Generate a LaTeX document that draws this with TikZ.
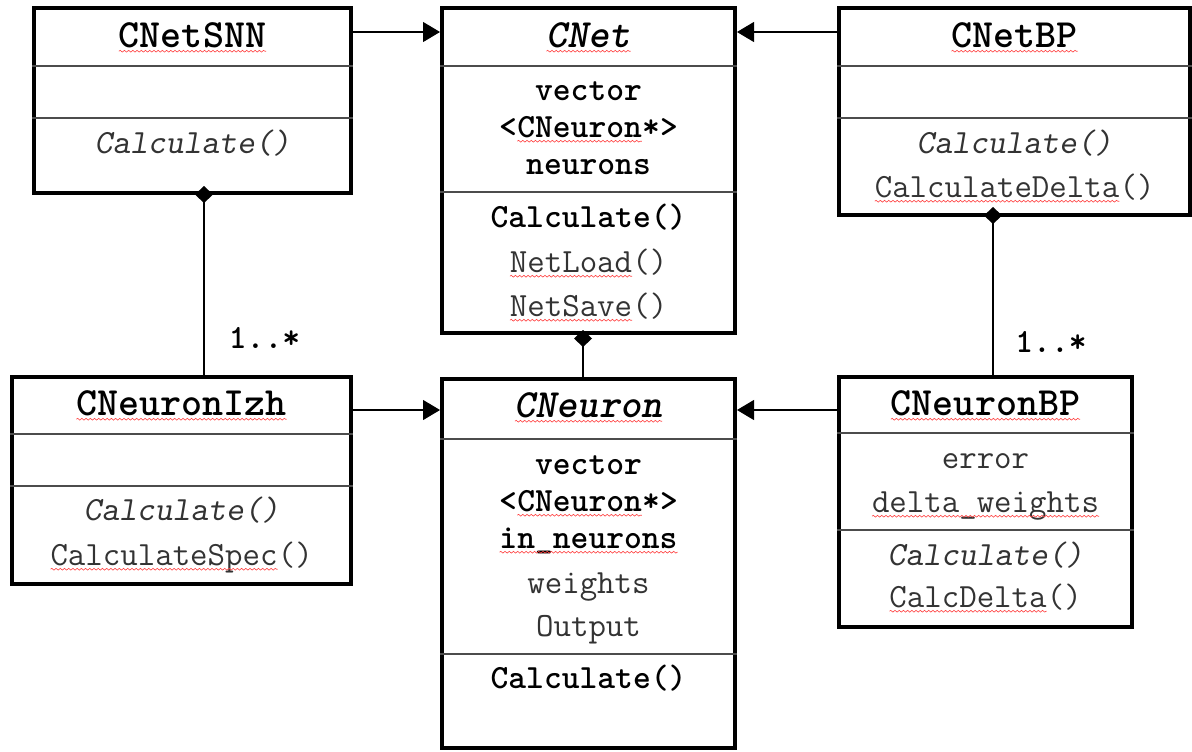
\documentclass[tikz,border=0pt]{standalone}
\usepackage{fontspec}
\usetikzlibrary{arrows.meta,decorations.pathmorphing}

% red wavy mark under a word
\newcommand{\spell}[1]{\tikz[baseline=(w.base)]{\node[inner sep=0pt,outer sep=0pt,anchor=base] (w) {#1};
  \draw[spellwave] ([yshift=-2.4pt]w.base west) -- ([yshift=-2.4pt]w.base east);}}

\begin{document}
\begin{tikzpicture}[x=0.02cm,y=-0.02cm,
  classbox/.style={rectangle,draw=black,line width=2.3pt,inner sep=0pt},
  divider/.style={black!70,line width=0.8pt},
  title/.style={anchor=base,inner sep=0pt,font=\ttfamily\bfseries\fontsize{22.8}{27}\selectfont},
  abstract/.style={title,font=\ttfamily\bfseries\slshape\fontsize{22.8}{27}\selectfont},
  field/.style={anchor=base,inner sep=0pt,text=black!80,font=\ttfamily\fontsize{19.3}{23}\selectfont},
  strong/.style={field,text=black,font=\ttfamily\bfseries\fontsize{19.3}{23}\selectfont},
  virtual/.style={field,font=\ttfamily\slshape\fontsize{19.3}{23}\selectfont},
  extends/.style={-{Triangle[length=0.34cm,width=0.4cm]},line width=0.6pt},
  owns/.style={{Diamond[length=0.34cm,width=0.36cm]}-,line width=0.8pt},
  spellwave/.style={draw=red!75,line width=0.35pt,decorate,decoration={snake,amplitude=0.5pt,segment length=2.4pt}}]
\useasboundingbox (0,0) rectangle (1192,751);
%Class boxes
\node at (192.5,100.5) [classbox,minimum width=6.34cm,minimum height=3.70cm] (SNN) {};
\node at (588.5,170.5) [classbox,minimum width=5.86cm,minimum height=6.50cm] (Net) {};
\node at (1014.5,111.5) [classbox,minimum width=7.02cm,minimum height=4.14cm] (NetBP) {};
\node at (181.5,480.5) [classbox,minimum width=6.78cm,minimum height=4.14cm] (Izh) {};
\node at (588.5,563.5) [classbox,minimum width=5.86cm,minimum height=7.38cm] (Neuron) {};
\node at (985.5,502) [classbox,minimum width=5.86cm,minimum height=5.00cm] (NeuronBP) {};
%Compartments
\draw[divider] (SNN.west |- 0,66) -- (SNN.east |- 0,66);
\draw[divider] (SNN.west |- 0,118) -- (SNN.east |- 0,118);
\draw[divider] (Net.west |- 0,66) -- (Net.east |- 0,66);
\draw[divider] (Net.west |- 0,192) -- (Net.east |- 0,192);
\draw[divider] (NetBP.west |- 0,66) -- (NetBP.east |- 0,66);
\draw[divider] (NetBP.west |- 0,118) -- (NetBP.east |- 0,118);
\draw[divider] (Izh.west |- 0,434) -- (Izh.east |- 0,434);
\draw[divider] (Izh.west |- 0,486) -- (Izh.east |- 0,486);
\draw[divider] (Neuron.west |- 0,439) -- (Neuron.east |- 0,439);
\draw[divider] (Neuron.west |- 0,654) -- (Neuron.east |- 0,654);
\draw[divider] (NeuronBP.west |- 0,433) -- (NeuronBP.east |- 0,433);
\draw[divider] (NeuronBP.west |- 0,530) -- (NeuronBP.east |- 0,530);
%CNetSNN
\node at (192.5,47) [title] (SNNname) {\spell{CNetSNN}};
\node at (192.5,153) [virtual] (SNNcalc) {Calculate()};
%CNet
\node at (588.5,47) [abstract] (Netname) {\spell{CNet}};
\node at (588.5,100) [strong] (Netvec) {vector};
\node at (588.5,137) [strong] (Nettype) {<\spell{CNeuron}*>};
\node at (588.5,174) [strong] (Netlist) {neurons};
\node at (588.5,227) [strong] (Netcalc) {Calculate()};
\node at (588.5,272) [field] (Netload) {\spell{NetLoad}()};
\node at (588.5,316) [field] (Netsave) {\spell{NetSave}()};
%CNetBP
\node at (1014.5,47) [title] (BPname) {\spell{CNetBP}};
\node at (1014.5,153) [virtual] (BPcalc) {Calculate()};
\node at (1014.5,197) [field] (BPdelta) {\spell{CalculateDelta}()};
%CNeuronIzh
\node at (181.5,415) [title] (Izhname) {\spell{CNeuronIzh}};
\node at (181.5,520) [virtual] (Izhcalc) {Calculate()};
\node at (181.5,565) [field] (Izhspec) {\spell{CalculateSpec}()};
%CNeuron
\node at (588.5,417) [abstract] (Neuronname) {\spell{CNeuron}};
\node at (588.5,474) [strong] (Neuronvec) {vector};
\node at (588.5,511) [strong] (Neurontype) {<\spell{CNeuron}*>};
\node at (588.5,548) [strong] (Neuronin) {\spell{in\_neurons}};
\node at (588.5,593) [field] (Neuronw) {weights};
\node at (588.5,636) [field] (Neuronout) {Output};
\node at (588.5,688) [strong] (Neuroncalc) {Calculate()};
%CNeuronBP
\node at (985.5,415) [title] (NBPname) {\spell{CNeuronBP}};
\node at (985.5,468) [field] (NBPerr) {error};
\node at (985.5,512) [field] (NBPdw) {\spell{delta\_weights}};
\node at (985.5,565) [virtual] (NBPcalc) {Calculate()};
\node at (985.5,607) [field] (NBPdelta) {\spell{CalcDelta}()};
%Connections
\draw[extends] (SNN.east |- 0,32) -- (Net.west |- 0,32);
\draw[extends] (NetBP.west |- 0,32) -- (Net.east |- 0,32);
\draw[extends] (Izh.east |- 0,410) -- (Neuron.west |- 0,410);
\draw[extends] (NeuronBP.west |- 0,410) -- (Neuron.east |- 0,410);
\coordinate (SNNpart) at (204,186);
\coordinate (Netpart) at (583,330);
\coordinate (BPpart) at (993,207);
\draw[owns] (SNNpart) -- (SNNpart |- Izh.north);
\draw[owns] (Netpart) -- (Netpart |- Neuron.north);
\draw[owns] (BPpart) -- (BPpart |- NeuronBP.north);
%Multiplicities
\node at (264.5,348) [strong] (SNNmult) {1..*};
\node at (1051,352) [strong] (BPmult) {1..*};
\end{tikzpicture}
\end{document}
